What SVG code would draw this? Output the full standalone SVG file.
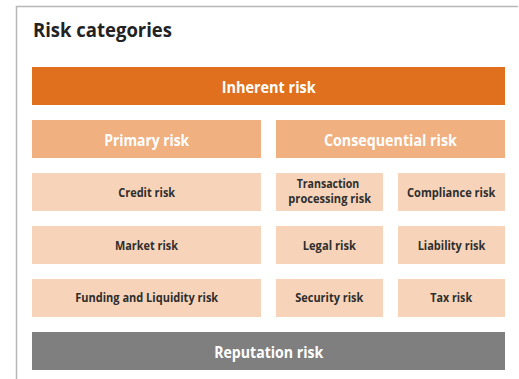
<svg xmlns="http://www.w3.org/2000/svg" width="519" height="379" viewBox="0 0 519 379">
<style>
.t{font-family:"Open Sans","Liberation Sans",sans-serif;font-weight:bold;text-anchor:middle}
.big{font-size:16.5px;fill:#fff}
.sm{font-size:12.5px;fill:#2e2e2e}
.tw{font-size:11.5px}
.l1{fill:#E0701D}
.l2{fill:#F0B080}
.l3{fill:#F7D4B9}
.l4{fill:#7F7F7F}
</style>
<rect width="519" height="379" fill="#fff"/>
<path d="M16.5,379 V6.5 H518" fill="none" stroke="#b8b8b8" stroke-width="1.5"/>
<text x="33" y="37" textLength="139" lengthAdjust="spacingAndGlyphs" style="font-family:'Open Sans','Liberation Sans',sans-serif;font-weight:bold;font-size:19px;fill:#222">Risk categories</text>
<g id="inherent"><rect class="l1" x="32" y="67" width="473" height="38"/><text class="t big" x="268.7" y="92.7" textLength="94" lengthAdjust="spacingAndGlyphs">Inherent risk</text></g>
<g id="primary"><rect class="l2" x="32" y="120" width="229" height="38"/><text class="t big" x="146.7" y="145.7" textLength="85" lengthAdjust="spacingAndGlyphs">Primary risk</text></g>
<g id="consequential"><rect class="l2" x="276" y="120" width="229" height="38"/><text class="t big" x="390.4" y="145.7" textLength="133" lengthAdjust="spacingAndGlyphs">Consequential risk</text></g>
<g id="credit"><rect class="l3" x="32" y="173" width="229" height="38"/><text class="t sm" x="146.7" y="196.7" textLength="57" lengthAdjust="spacingAndGlyphs">Credit risk</text></g>
<g id="market"><rect class="l3" x="32" y="226" width="229" height="38"/><text class="t sm" x="146.5" y="250" textLength="63" lengthAdjust="spacingAndGlyphs">Market risk</text></g>
<g id="funding"><rect class="l3" x="32" y="279" width="229" height="38"/><text class="t sm" x="146.7" y="301.7" textLength="143" lengthAdjust="spacingAndGlyphs">Funding and Liquidity risk</text></g>
<g id="transaction"><rect class="l3" x="276" y="173" width="107" height="38"/><text class="t sm tw" x="328" y="187.5" textLength="62.7" lengthAdjust="spacingAndGlyphs">Transaction</text><text class="t sm tw" x="329.7" y="202.5" textLength="82.7" lengthAdjust="spacingAndGlyphs">processing risk</text></g>
<g id="compliance"><rect class="l3" x="398" y="173" width="107" height="38"/><text class="t sm" x="451.2" y="196.7" textLength="88.3" lengthAdjust="spacingAndGlyphs">Compliance risk</text></g>
<g id="legal"><rect class="l3" x="276" y="226" width="107" height="38"/><text class="t sm" x="329.3" y="250" textLength="53.3" lengthAdjust="spacingAndGlyphs">Legal risk</text></g>
<g id="liability"><rect class="l3" x="398" y="226" width="107" height="38"/><text class="t sm" x="451.5" y="250" textLength="67.7" lengthAdjust="spacingAndGlyphs">Liability risk</text></g>
<g id="security"><rect class="l3" x="276" y="279" width="107" height="38"/><text class="t sm" x="329.3" y="301.7" textLength="68" lengthAdjust="spacingAndGlyphs">Security risk</text></g>
<g id="tax"><rect class="l3" x="398" y="279" width="107" height="38"/><text class="t sm" x="451.2" y="301.7" textLength="41.7" lengthAdjust="spacingAndGlyphs">Tax risk</text></g>
<g id="reputation"><rect class="l4" x="32" y="332" width="473" height="38"/><text class="t big" x="268.7" y="357.7" textLength="109" lengthAdjust="spacingAndGlyphs">Reputation risk</text></g>
<g id="connectors"></g>
</svg>
